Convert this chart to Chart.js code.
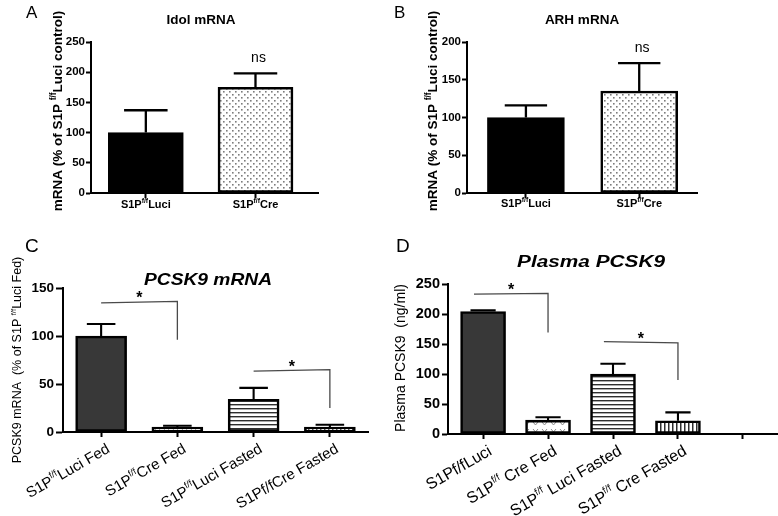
<!DOCTYPE html>
<html><head><meta charset="utf-8">
<script src="https://cdn.jsdelivr.net/npm/chart.js@4.4.0/dist/chart.umd.min.js"></script>
<style>
html,body{margin:0;padding:0;background:#fff;}
#wrap{position:relative;width:778px;height:516px;overflow:hidden;background:#fff;}
canvas{position:absolute;left:0;top:0;}
</style></head><body>
<div id="wrap">
<canvas id="cA" width="778" height="516"></canvas>
<canvas id="cB" width="778" height="516"></canvas>
<canvas id="cC" width="778" height="516"></canvas>
<canvas id="cD" width="778" height="516"></canvas>
</div>
<script>
// ---------- Panel A: Idol mRNA ----------
const idolGroups = ["S1P^{f/f}Luci", "S1P^{f/f}Cre"];
const idolMean = [100, 175];
const idolSem = [37, 23];
const idolNotes = ["", "ns"];
const idolYTicks = [0, 50, 100, 150, 200, 250];

// ---------- Panel B: ARH mRNA ----------
const arhGroups = ["S1P^{f/f}Luci", "S1P^{f/f}Cre"];
const arhMean = [100, 135];
const arhSem = [16, 37];
const arhNotes = ["", "ns"];
const arhYTicks = [0, 50, 100, 150, 200];

// ---------- Panel C: PCSK9 mRNA ----------
const pcskGroups = ["S1P^{f/f}Luci Fed", "S1P^{f/f}Cre Fed", "S1P^{f/f}Luci Fasted", "S1Pf/fCre Fasted"];
const pcskMean = [100, 5, 34, 5];
const pcskSem = [12.5, 1.5, 12, 2.5];
const pcskYTicks = [0, 50, 100, 150];
const pcskSigFrom = [0, 2];
const pcskSigTo = [1, 3];
const pcskSigLeft = [134.5, 63.5];
const pcskSigRight = [136, 65];
const pcskSigDrop = [96, 25];
const pcskSigLabel = ["*", "*"];

// ---------- Panel D: Plasma PCSK9 ----------
const plasmaGroups = ["S1Pf/fLuci", "S1P^{f/f} Cre Fed", "S1P^{f/f} Luci Fasted", "S1P^{f/f} Cre Fasted", ""];
const plasmaMean = [204, 23, 100, 22];
const plasmaSem = [2, 5, 17, 14];
const plasmaYTicks = [0, 50, 100, 150, 200, 250];
const plasmaSigFrom = [0, 2];
const plasmaSigTo = [1, 3];
const plasmaSigLeft = [233, 154];
const plasmaSigRight = [234.5, 152];
const plasmaSigDrop = [169, 90];
const plasmaSigLabel = ["*", "*"];

const FAMILY = '"Liberation Sans", Arial, Helvetica, sans-serif';
Chart.defaults.font.family = FAMILY;

function parseRich(s){
  const out=[]; const re=/\^\{([^}]*)\}/g; let last=0, m;
  while((m=re.exec(s))){
    if(m.index>last) out.push({t:s.slice(last,m.index),sup:false});
    out.push({t:m[1],sup:true}); last=re.lastIndex;
  }
  if(last<s.length) out.push({t:s.slice(last),sup:false});
  return out;
}
function drawRich(ctx, s, x, y, o){
  const segs=parseRich(s);
  const st=o.style||'normal', wt=o.weight||'normal';
  const base=`${st} ${wt} ${o.size}px ${FAMILY}`;
  const sup=`${st} ${wt} ${(o.size*0.62).toFixed(2)}px ${FAMILY}`;
  ctx.save();
  ctx.translate(x,y);
  if(o.rot) ctx.rotate(o.rot);
  if(o.sx) ctx.scale(o.sx,1);
  ctx.fillStyle=o.color||'#000';
  ctx.textBaseline='alphabetic'; ctx.textAlign='left';
  let w=0;
  for(const g of segs){ ctx.font=g.sup?sup:base; g.w=ctx.measureText(g.t).width; w+=g.w; }
  let cx = o.align==='right' ? -w : (o.align==='center' ? -w/2 : 0);
  const dy=o.dy||0;
  for(const g of segs){ ctx.font=g.sup?sup:base; ctx.fillText(g.t, cx, dy + (g.sup ? -o.size*0.42 : 0)); cx+=g.w; }
  ctx.restore();
}

function tile(w,h,draw){
  const c=document.createElement('canvas'); c.width=w; c.height=h;
  const g=c.getContext('2d'); g.fillStyle='#fff'; g.fillRect(0,0,w,h); draw(g); return c;
}
function pattern(ctx, kind){
  let t;
  if(kind==='dots') t=tile(6,6,g=>{g.fillStyle='#7d7d7d'; g.fillRect(1,1,1.6,1.6); g.fillRect(4,4,1.6,1.6);});
  else if(kind==='vees') t=tile(9,7,g=>{g.strokeStyle='#8c8c8c'; g.lineWidth=1; g.beginPath(); g.moveTo(2,2); g.lineTo(4.5,5); g.lineTo(7,2); g.stroke();});
  else if(kind==='hlines') t=tile(4,4,g=>{g.fillStyle='#2e2e2e'; g.fillRect(0,0,4,1.4);});
  else if(kind==='vlines') t=tile(4,4,g=>{g.fillStyle='#2e2e2e'; g.fillRect(0,0,1.5,4);});
  else return kind;
  return ctx.createPattern(t,'repeat');
}

function overlay(cfg){
  return {
    id:'overlay'+cfg.id,
    afterDatasetsDraw(chart){
      const ctx=chart.ctx, xs=chart.scales.x, ys=chart.scales.y, meta=chart.getDatasetMeta(0);
      ctx.save();
      ctx.strokeStyle='#000'; ctx.lineWidth=cfg.errW; ctx.lineCap='butt';
      meta.data.forEach((bar,i)=>{
        const top=ys.getPixelForValue(cfg.mean[i]+cfg.sem[i]);
        const half=cfg.barW*cfg.capRatio/2;
        ctx.beginPath();
        ctx.moveTo(bar.x, bar.y); ctx.lineTo(bar.x, top);
        ctx.moveTo(bar.x-half, top); ctx.lineTo(bar.x+half, top);
        ctx.stroke();
        if(cfg.notes && cfg.notes[i]){
          ctx.fillStyle='#000'; ctx.font=`normal 14px ${FAMILY}`; ctx.textAlign='center'; ctx.textBaseline='alphabetic';
          ctx.fillText(cfg.notes[i], bar.x+3, top-11);
        }
      });
      if(cfg.sig){
        const s=cfg.sig;
        s.from.forEach((f,k)=>{
          const x1=xs.getPixelForValue(f+s.shift), x2=xs.getPixelForValue(s.to[k]);
          const y1=ys.getPixelForValue(s.left[k]), y2=ys.getPixelForValue(s.right[k]), y3=ys.getPixelForValue(s.drop[k]);
          ctx.strokeStyle='#4a4a4a'; ctx.lineWidth=1.3;
          ctx.beginPath(); ctx.moveTo(x1,y1); ctx.lineTo(x2,y2); ctx.lineTo(x2,y3); ctx.stroke();
          ctx.fillStyle='#000'; ctx.font=`bold 16px ${FAMILY}`; ctx.textAlign='center'; ctx.textBaseline='alphabetic';
          ctx.fillText(s.label[k], (x1+x2)/2, Math.min(y1,y2)+2);
        });
      }
      ctx.restore();
    },
    afterDraw(chart){
      const ctx=chart.ctx, xs=chart.scales.x, area=chart.chartArea;
      const L=cfg.xLabel;
      cfg.groups.forEach((g,i)=>{
        if(!g) return;
        const tx=xs.getPixelForValue(i);
        if(L.mode==='flat'){
          drawRich(ctx, g, tx, L.y, {size:L.size, weight:L.weight, align:'center'});
        } else {
          drawRich(ctx, g, tx+L.dx, area.bottom+L.dy, {size:L.size, weight:L.weight, align:'right', rot:L.rot*Math.PI/180, dy:L.size*0.35});
        }
      });
      const T=cfg.title;
      drawRich(ctx, T.text, T.x, T.y, {size:T.size, weight:T.weight, style:T.style, align:'center', sx:T.sx});
      const Y=cfg.ytitle;
      drawRich(ctx, Y.text, Y.x, Y.y, {size:Y.size, weight:Y.weight, align:'center', rot:-Math.PI/2, dy:Y.size*0.35});
      const P=cfg.letter;
      drawRich(ctx, P.text, P.x, P.y, {size:P.size, weight:'normal', align:'left'});
    }
  };
}

function makeChart(cfg){
  const canvas=document.getElementById(cfg.canvas);
  const ctx=canvas.getContext('2d');
  const data=cfg.mean.map((v,i)=>({x:i, y:v}));
  const fills=cfg.fills.map(k=>pattern(ctx,k));
  const yw=40, xh=10;
  return new Chart(ctx,{
    type:'bar',
    data:{datasets:[{data, backgroundColor:fills, borderColor:'#000', borderWidth:cfg.border, barThickness:cfg.barW, borderSkipped:false}]},
    options:{
      responsive:false, animation:false, events:[],
      layout:{padding:{left:cfg.area.left-yw, right:778-cfg.area.right, top:cfg.area.top, bottom:516-cfg.area.bottom-xh}},
      plugins:{legend:{display:false}, tooltip:{enabled:false}, title:{display:false}},
      scales:{
        x:{type:'linear', offset:false, min:cfg.xMin, max:cfg.xMax,
          afterBuildTicks:s=>{ s.ticks=cfg.groups.map((_,i)=>({value:i})); },
          afterFit:s=>{ s.height=xh; },
          ticks:{display:false},
          grid:{offset:false, drawOnChartArea:false, drawTicks:true, tickLength:cfg.xTickLen, tickColor:'#000', tickWidth:2},
          border:{display:true, color:'#000', width:2}},
        y:{type:'linear', min:cfg.yTicks[0], max:cfg.yTicks[cfg.yTicks.length-1],
          afterBuildTicks:s=>{ s.ticks=cfg.yTicks.map(v=>({value:v})); },
          afterFit:s=>{ s.width=yw; },
          ticks:{color:'#000', padding:cfg.yPad, font:{family:FAMILY, size:cfg.yTickFont.size, weight:cfg.yTickFont.weight}},
          grid:{drawOnChartArea:false, drawTicks:true, tickLength:cfg.yTickLen, tickColor:'#000', tickWidth:2},
          border:{display:true, color:'#000', width:2}}
      }
    },
    plugins:[overlay(cfg)]
  });
}

makeChart({id:'A', canvas:'cA', groups:idolGroups, mean:idolMean, sem:idolSem, notes:idolNotes, yTicks:idolYTicks,
  fills:['#000000','dots'], area:{left:91,right:318,top:42,bottom:193}, xMin:-0.5, xMax:1.57, barW:75, border:2.6,
  errW:2.3, capRatio:0.58, yTickFont:{size:11.5,weight:'bold'}, yTickLen:5, yPad:1, xTickLen:5,
  xLabel:{mode:'flat', size:11, weight:'bold', y:208},
  title:{text:'Idol mRNA', x:201, y:24, size:13.5, weight:'bold', style:'normal', sx:1},
  ytitle:{text:'mRNA (% of S1P ^{f/f}Luci control)', x:57, y:111, size:13.5, weight:'bold'},
  letter:{text:'A', x:26, y:18, size:17}});

makeChart({id:'B', canvas:'cB', groups:arhGroups, mean:arhMean, sem:arhSem, notes:arhNotes, yTicks:arhYTicks,
  fills:['#000000','dots'], area:{left:467,right:697,top:42,bottom:193}, xMin:-0.52, xMax:1.51, barW:77, border:2.6,
  errW:2.3, capRatio:0.55, yTickFont:{size:11.5,weight:'bold'}, yTickLen:5, yPad:1, xTickLen:5,
  xLabel:{mode:'flat', size:11, weight:'bold', y:207},
  title:{text:'ARH mRNA', x:582, y:24, size:13.5, weight:'bold', style:'normal', sx:1},
  ytitle:{text:'mRNA (% of S1P ^{f/f}Luci control)', x:432, y:111, size:13.5, weight:'bold'},
  letter:{text:'B', x:394, y:18, size:17}});

makeChart({id:'C', canvas:'cC', groups:pcskGroups, mean:pcskMean, sem:pcskSem, yTicks:pcskYTicks,
  fills:['#383838','vees','hlines','vlines'], area:{left:63,right:368,top:288,bottom:432}, xMin:-0.5, xMax:3.5, barW:51, border:2.6,
  errW:2.1, capRatio:0.56, yTickFont:{size:13.5,weight:'bold'}, yTickLen:7, yPad:2, xTickLen:5,
  xLabel:{mode:'rot', size:15, weight:'normal', dx:7, dy:15, rot:-30},
  title:{text:'PCSK9 mRNA', x:208, y:285, size:16, weight:'bold', style:'italic', sx:1.2},
  ytitle:{text:'PCSK9 mRNA  (% of S1P ^{f/f}Luci Fed)', x:17, y:360, size:12.5, weight:'normal'},
  letter:{text:'C', x:25, y:252, size:19},
  sig:{from:pcskSigFrom, to:pcskSigTo, left:pcskSigLeft, right:pcskSigRight, drop:pcskSigDrop, label:pcskSigLabel, shift:0}});

makeChart({id:'D', canvas:'cD', groups:plasmaGroups, mean:plasmaMean, sem:plasmaSem, yTicks:plasmaYTicks,
  fills:['#383838','vees','hlines','vlines'], area:{left:448,right:778,top:284,bottom:434}, xMin:-0.54, xMax:4.54, barW:45, border:2.6,
  errW:2.1, capRatio:0.56, yTickFont:{size:14.5,weight:'bold'}, yTickLen:6, yPad:2, xTickLen:5,
  xLabel:{mode:'rot', size:16, weight:'normal', dx:7, dy:15, rot:-30},
  title:{text:'Plasma PCSK9', x:591, y:267, size:16, weight:'bold', style:'italic', sx:1.3},
  ytitle:{text:'Plasma PCSK9  (ng/ml)', x:400, y:358, size:14, weight:'normal'},
  letter:{text:'D', x:396, y:252, size:19},
  sig:{from:plasmaSigFrom, to:plasmaSigTo, left:plasmaSigLeft, right:plasmaSigRight, drop:plasmaSigDrop, label:plasmaSigLabel, shift:-0.14}});
</script>
</body></html>
